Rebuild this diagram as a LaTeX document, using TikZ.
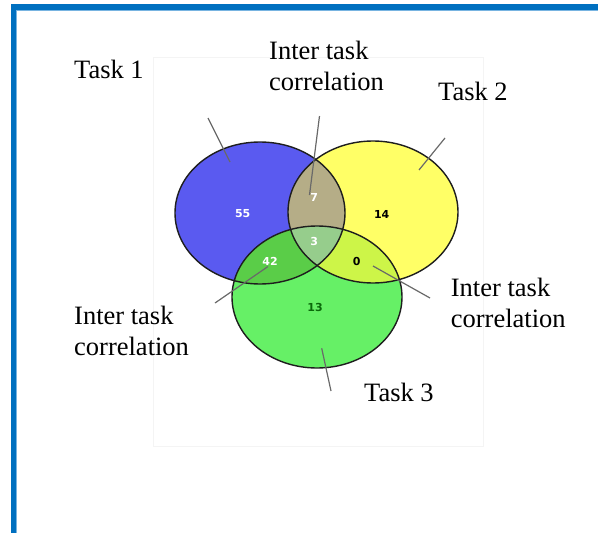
\documentclass[tikz,border=0pt]{standalone}
\usepackage{fontspec}
\setmainfont{Liberation Serif}
\newfontfamily\vennnum{DejaVu Sans}
\definecolor{frameblue}{RGB}{0,112,192}
\definecolor{frameedge}{RGB}{120,180,225}
\definecolor{taskblue}{RGB}{90,90,240}
\definecolor{taskyellow}{RGB}{255,255,102}
\definecolor{taskgreen}{RGB}{102,240,102}
\definecolor{lensBY}{RGB}{181,173,135}
\definecolor{lensBG}{RGB}{90,205,72}
\definecolor{lensYG}{RGB}{205,245,72}
\definecolor{lensAll}{RGB}{150,205,140}
\definecolor{ringdark}{RGB}{30,30,30}
\definecolor{leadergray}{RGB}{105,105,105}
\definecolor{countgreen}{RGB}{10,105,10}
\definecolor{boxfaint}{RGB}{244,244,244}
\begin{document}
\begin{tikzpicture}[x=1pt,y=-1pt,
  label/.style={font=\fontsize{26.5}{30.7}\selectfont, align=left, inner sep=0pt, anchor=base west},
  count/.style={font=\vennnum\bfseries\fontsize{11}{13}\selectfont, inner sep=0pt},
  leader/.style={draw=leadergray, line width=1.2pt},
  ring/.style={draw=ringdark, line width=1.4pt},
  oval/.style={x radius=85pt, y radius=71pt}]
\useasboundingbox (0,0) rectangle (598,533);

% frame along the top and left edges
\fill[frameblue] (10.7,4.3) rectangle (598,10);
\fill[frameblue] (10.7,4.3) rectangle (16,533);
\fill[frameedge] (16,10) rectangle (598,10.8);
\fill[frameedge] (16,10) rectangle (16.8,533);

% faint border of the figure area
\draw[boxfaint, line width=1pt] (153,57) rectangle (483,446);

% centres of the three sets
\coordinate (cB) at (260,213);
\coordinate (cY) at (373,212);
\coordinate (cG) at (317,297);

% set fills
\fill[taskblue] (cB) ellipse [oval];
\fill[taskyellow] (cY) ellipse [oval];
\fill[taskgreen] (cG) ellipse [oval];

% pairwise overlaps
\begin{scope}
  \clip (cB) ellipse [oval];
  \fill[lensBY] (cY) ellipse [oval];
\end{scope}
\begin{scope}
  \clip (cB) ellipse [oval];
  \fill[lensBG] (cG) ellipse [oval];
\end{scope}
\begin{scope}
  \clip (cY) ellipse [oval];
  \fill[lensYG] (cG) ellipse [oval];
\end{scope}
% triple overlap
\begin{scope}
  \clip (cB) ellipse [oval];
  \clip (cY) ellipse [oval];
  \fill[lensAll] (cG) ellipse [oval];
\end{scope}

% outlines
\draw[ring] (cB) ellipse [oval];
\draw[ring] (cY) ellipse [oval];
\draw[ring] (cG) ellipse [oval];

% region counts
\node[count, text=white] (n55) at (242.7,213.3) {55};
\node[count, text=white] (n7) at (314.3,197.3) {7};
\node[count, text=black] (n14) at (381.7,214) {14};
\node[count, text=white] (n3) at (314.3,241.7) {3};
\node[count, text=white] (n42) at (270,261) {42};
\node[count, text=black] (n0) at (356.7,261) {0};
\node[count, text=countgreen] (n13) at (315,307.3) {13};

% labels (two-line labels are placed by the baseline of their last line)
\node[label] (task1) at (74,78) {Task 1};
\node[label] (interTop) at (269,90) {Inter task\\correlation};
\node[label] (task2) at (438,100) {Task 2};
\node[label] (interLeft) at (74,355) {Inter task\\correlation};
\node[label] (interRight) at (450.7,327.3) {Inter task\\correlation};
\node[label] (task3) at (364,401.7) {Task 3};

% leader lines
\coordinate (t1a) at (208,118);  \coordinate (t1b) at (230,162);
\coordinate (ita) at (319.5,116); \coordinate (itb) at (309.5,195);
\coordinate (t2a) at (445,138);  \coordinate (t2b) at (419,170);
\coordinate (rca) at (430,298);  \coordinate (rcb) at (373,266);
\coordinate (lca) at (215,303);  \coordinate (lcb) at (268,266.5);
\coordinate (t3a) at (331,391);  \coordinate (t3b) at (321.7,348.3);
\draw[leader] (t1a) -- (t1b);
\draw[leader] (ita) -- (itb);
\draw[leader] (t2a) -- (t2b);
\draw[leader] (rca) -- (rcb);
\draw[leader] (lca) -- (lcb);
\draw[leader] (t3a) -- (t3b);
\end{tikzpicture}
\end{document}
